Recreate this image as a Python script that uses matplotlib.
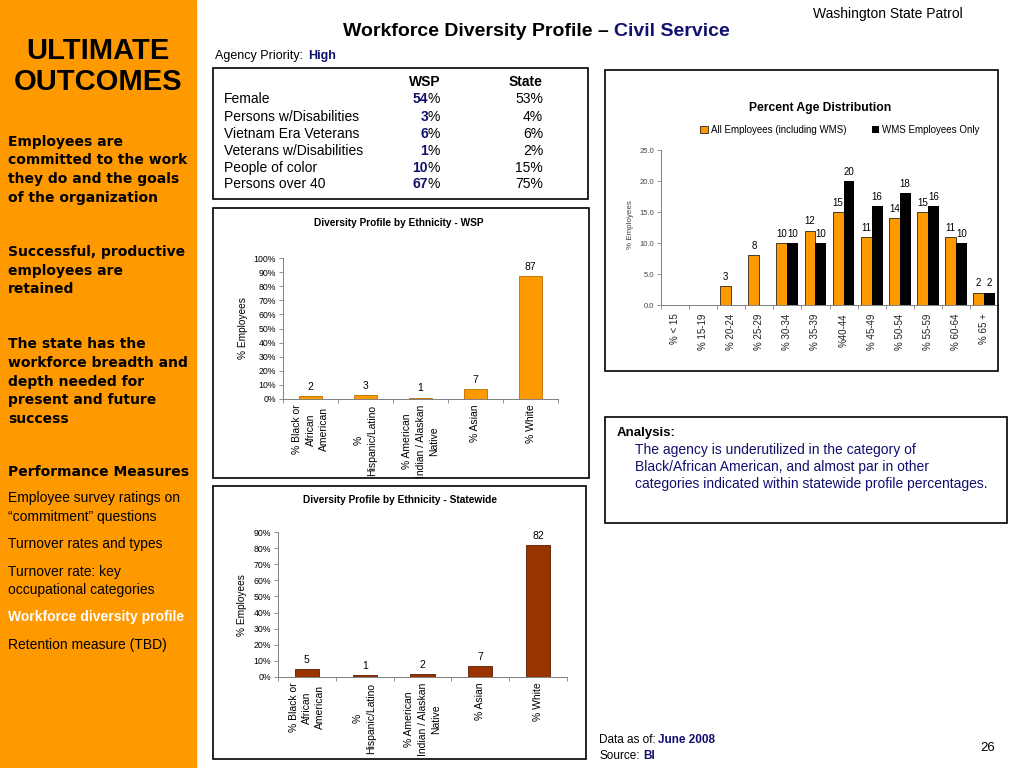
import numpy as np
import matplotlib
matplotlib.use("Agg")
import matplotlib.pyplot as plt
from matplotlib.patches import Rectangle

plt.rcParams['font.family'] = ['Liberation Sans', 'DejaVu Sans']
NARROW = ['Liberation Sans Narrow', 'Liberation Sans', 'DejaVu Sans']
WIDE = ['DejaVu Sans']

# ---------------- data ----------------
age_groups = ["% < 15", "% 15-19", "% 20-24", "% 25-29", "% 30-34", "% 35-39",
              "%40-44", "% 45-49", "% 50-54", "% 55-59", "% 60-64", "% 65 +"]
age_all = [0, 0, 3, 8, 10, 12, 15, 11, 14, 15, 11, 2]
age_wms = [0, 0, 0, 0, 10, 10, 20, 16, 18, 16, 10, 2]

eth_labels = ["% Black or\nAfrican\nAmerican", "%\nHispanic/Latino",
              "% American\nIndian / Alaskan\nNative", "% Asian", "% White"]
eth_wsp = [2, 3, 1, 7, 87]
eth_state = [5, 1, 2, 7, 82]

table_rows = ["Female", "Persons w/Disabilities", "Vietnam Era Veterans",
              "Veterans w/Disabilities", "People of color", "Persons over 40"]
table_wsp = [54, 3, 6, 1, 10, 67]
table_state = [53, 4, 6, 2, 15, 75]

outcomes = [
    ["Employees are", "committed to the work", "they do and the goals", "of the organization"],
    ["Successful, productive", "employees are", "retained"],
    ["The state has the", "workforce breadth and", "depth needed for",
     "present and future", "success"],
]
measures = [
    ["Employee survey ratings on", "\u201ccommitment\u201d questions"],
    ["Turnover rates and types"],
    ["Turnover rate: key", "occupational categories"],
    ["Workforce diversity profile"],
    ["Retention measure (TBD)"],
]
highlight_measure = "Workforce diversity profile"

ORANGE = "#FF9900"
BROWN = "#993300"
NAVY = "#10106E"

W, H = 1024, 768
fig = plt.figure(figsize=(W / 100, H / 100), dpi=100)


def fx(x):
    return x / W


def fy(y):
    return 1 - y / H


def T(x, y, s, **kw):
    kw.setdefault("va", "center")
    return fig.text(fx(x), fy(y), s, **kw)


def box(x0, y0, x1, y1, lw=1.2):
    fig.add_artist(Rectangle((fx(x0), fy(y1)), (x1 - x0) / W, (y1 - y0) / H,
                             transform=fig.transFigure, fill=False,
                             edgecolor="black", lw=lw))


def ax_px(x0, y0, x1, y1):
    return fig.add_axes([fx(x0), fy(y1), (x1 - x0) / W, (y1 - y0) / H])


# ---------------- left orange panel ----------------
fig.add_artist(Rectangle((0, 0), fx(196), 1, transform=fig.transFigure,
                         color=ORANGE, zorder=0))
T(98, 51, "ULTIMATE", ha="center", fontsize=21, fontweight="bold")
T(98, 82, "OUTCOMES", ha="center", fontsize=21, fontweight="bold")

outcome_y = [[142, 160, 179, 198], [252, 271, 289], [344, 363, 382, 400, 419]]
for lines, ys in zip(outcomes, outcome_y):
    for s, y in zip(lines, ys):
        T(8, y, s, fontsize=10, fontweight="bold", family=WIDE)

T(8, 472, "Performance Measures", fontsize=10, fontweight="bold", family=WIDE)
measure_y = [[498, 517], [544], [572, 590], [617], [645]]
for lines, ys in zip(measures, measure_y):
    for s, y in zip(lines, ys):
        if s == highlight_measure:
            T(8, y, s, fontsize=10, fontweight="bold", color="white")
        else:
            T(8, y, s, fontsize=10)

# ---------------- header texts ----------------
T(963, 14, "Washington State Patrol", ha="right", fontsize=10)
T(609, 31, "Workforce Diversity Profile \u2013", ha="right", fontsize=14, fontweight="bold")
T(614, 31, "Civil Service", ha="left", fontsize=14, fontweight="bold", color=NAVY)
T(215, 56, "Agency Priority:", fontsize=9)
T(308, 56, "High", fontsize=9, fontweight="bold", color=NAVY)

# ---------------- table ----------------
box(213, 68, 588, 199)
T(425, 82, "WSP", ha="center", fontsize=10, fontweight="bold")
T(526, 82, "State", ha="center", fontsize=10, fontweight="bold")
row_y = [99, 117, 134, 151, 168, 184]
for lab, w, s, y in zip(table_rows, table_wsp, table_state, row_y):
    T(224, y, lab, fontsize=10)
    T(428, y, f"{w}", ha="right", fontsize=10, fontweight="bold", color=NAVY)
    T(428, y, "%", ha="left", fontsize=10)
    T(543, y, f"{s}%", ha="right", fontsize=10)

# ---------------- age distribution chart ----------------
box(605, 70, 998, 371)
T(820, 108, "Percent Age Distribution", ha="center", fontsize=8.7, fontweight="bold")
ax = ax_px(661, 150, 998, 305)
x = np.arange(len(age_groups))
bw = 0.39
b1 = ax.bar(x - bw / 2, age_all, bw, color=ORANGE, edgecolor="black", lw=0.5,
            label="All Employees (including WMS)")
b2 = ax.bar(x + bw / 2, age_wms, bw, color="black", label="WMS Employees Only")
for bars, vals in ((b1, age_all), (b2, age_wms)):
    for r, v in zip(bars, vals):
        if v > 0:
            ax.annotate(f"{v}", (r.get_x() + r.get_width() / 2, v),
                        xytext=(0, 3), textcoords="offset points",
                        ha="center", va="bottom", fontsize=7)
ax.set_xlim(-0.5, len(age_groups) - 0.5)
ax.set_ylim(0, 25)
ax.set_yticks(np.arange(0, 26, 5))
ax.set_yticklabels([f"{v:.1f}" for v in np.arange(0, 26, 5)], fontsize=5.5, color="#444444")
ax.set_xticks(x)
ax.set_xticklabels(age_groups, rotation=90, fontsize=7, color="#222222")
ax.set_xticks(np.arange(-0.5, len(age_groups), 1), minor=True)
ax.tick_params(axis="x", which="major", length=0, pad=6)
ax.tick_params(axis="x", which="minor", length=3, color="#808080", width=0.6)
ax.tick_params(axis="y", length=3, color="#808080", width=0.6, pad=2)
for sp in ("top", "right"):
    ax.spines[sp].set_visible(False)
for sp in ("left", "bottom"):
    ax.spines[sp].set_color("#808080")
    ax.spines[sp].set_linewidth(0.7)
T(631, 225, "% Employees", ha="center", rotation=90, fontsize=5.8, color="#444444")
fig.legend(handles=[b1, b2], loc="center", bbox_to_anchor=(fx(840), fy(130)),
           ncol=2, frameon=False, fontsize=7, handlelength=0.8, handleheight=0.8,
           handletextpad=0.3, columnspacing=2.6)


# ---------------- ethnicity charts ----------------
def eth_chart(x0, y0, x1, y1, vals, color, edge, ymax, title, title_xy, ylab_xy):
    a = ax_px(x0, y0, x1, y1)
    xi = np.arange(len(eth_labels))
    bars = a.bar(xi, vals, 0.42, color=color, edgecolor=edge, lw=0.6)
    for r, v in zip(bars, vals):
        a.annotate(f"{v}", (r.get_x() + r.get_width() / 2, v), xytext=(0, 3),
                   textcoords="offset points", ha="center", va="bottom", fontsize=7.5)
    a.set_xlim(-0.5, len(eth_labels) - 0.5)
    a.set_ylim(0, ymax)
    ticks = np.arange(0, ymax + 1, 10)
    a.set_yticks(ticks)
    a.set_yticklabels([f"{t}%" for t in ticks], fontsize=6.3, family=NARROW)
    a.set_xticks(xi)
    a.set_xticklabels(eth_labels, rotation=90, fontsize=7.5, family=NARROW,
                      multialignment="center", linespacing=1.4)
    a.set_xticks(np.arange(-0.5, len(eth_labels), 1), minor=True)
    a.tick_params(axis="x", which="major", length=0, pad=4)
    a.tick_params(axis="x", which="minor", length=3, color="#808080", width=0.6)
    a.tick_params(axis="y", length=3, color="#808080", width=0.6, pad=2)
    for sp in ("top", "right"):
        a.spines[sp].set_visible(False)
    for sp in ("left", "bottom"):
        a.spines[sp].set_color("#808080")
        a.spines[sp].set_linewidth(0.7)
    T(title_xy[0], title_xy[1], title, ha="center", fontsize=7.3, fontweight="bold",
      family=NARROW)
    T(ylab_xy[0], ylab_xy[1], "% Employees", ha="center", rotation=90, fontsize=7.3,
      family=NARROW)
    return a


box(213, 208, 589, 478)
eth_chart(283, 258, 558, 399, eth_wsp, ORANGE, "#B86E00", 100,
          "Diversity Profile by Ethnicity - WSP", (399, 223), (243, 328))
box(213, 486, 586, 759)
eth_chart(278, 532, 567, 677, eth_state, BROWN, "#5A1E00", 90,
          "Diversity Profile by Ethnicity - Statewide", (400, 500), (242, 605))

# ---------------- analysis box ----------------
box(605, 417, 1007, 523)
T(617, 433, "Analysis:", fontsize=9.5, fontweight="bold")
analysis_lines = ["The agency is underutilized in the category of",
                  "Black/African American, and almost par in other",
                  "categories indicated within statewide profile percentages."]
for s, y in zip(analysis_lines, [450, 467, 484]):
    T(635, y, s, fontsize=10, color=NAVY)

# ---------------- footer ----------------
T(599, 740, "Data as of:", fontsize=8.5, family=NARROW)
T(658, 740, "June 2008", fontsize=8.5, fontweight="bold", color=NAVY, family=NARROW)
T(599, 756, "Source:", fontsize=8.5, family=NARROW)
T(643, 756, "BI", fontsize=8.5, fontweight="bold", color=NAVY, family=NARROW)
T(988, 748, "26", ha="center", fontsize=9.5)

fig.savefig("out.png", dpi=100)
